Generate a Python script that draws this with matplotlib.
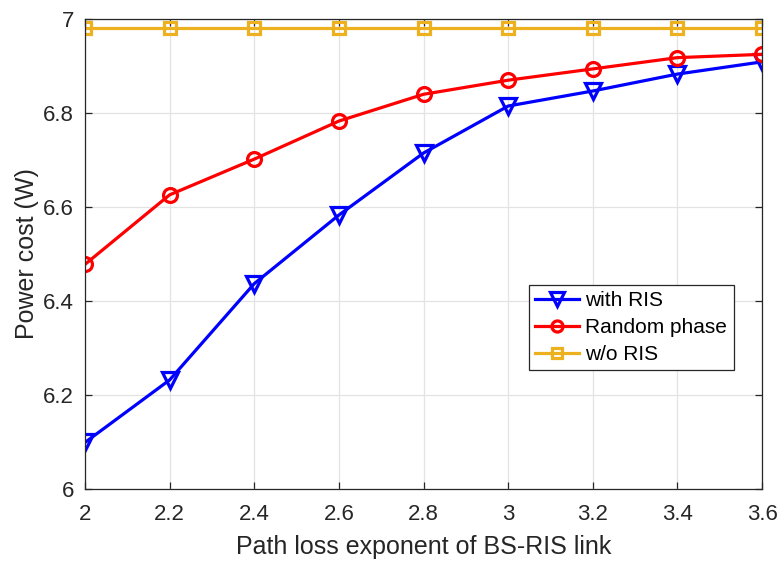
import matplotlib
matplotlib.use("Agg")
import matplotlib.pyplot as plt

plt.rcParams['font.family'] = ['Liberation Sans', 'DejaVu Sans']

# path loss exponent of the BS-RIS link
exponent = [2.0, 2.2, 2.4, 2.6, 2.8, 3.0, 3.2, 3.4, 3.6]

# power cost (W) for each scheme
with_ris = [6.099, 6.232, 6.437, 6.583, 6.715, 6.815, 6.847, 6.883, 6.909]
random_phase = [6.478, 6.626, 6.702, 6.783, 6.840, 6.870, 6.894, 6.918, 6.925]
without_ris = [6.981] * len(exponent)

fig = plt.figure(figsize=(7.8, 5.62), dpi=100)
ax = fig.add_axes([0.109, 0.130, 0.868, 0.836])

ax.plot(exponent, with_ris, color='#0000ff', lw=2.3, marker='v', ms=12,
        mfc='none', mew=2.3, label='with RIS')
ax.plot(exponent, random_phase, color='#ff0000', lw=2.3, marker='o', ms=10,
        mfc='none', mew=2.3, label='Random phase')
ax.plot(exponent, without_ris, color='#edb120', lw=2.3, marker='s', ms=9,
        mfc='none', mew=2.3, label='w/o RIS')

ax.set_xlim(2, 3.6)
ax.set_ylim(6, 7)
ax.set_xticks([2, 2.2, 2.4, 2.6, 2.8, 3, 3.2, 3.4, 3.6])
ax.set_xticklabels(['2', '2.2', '2.4', '2.6', '2.8', '3', '3.2', '3.4', '3.6'])
ax.set_yticks([6, 6.2, 6.4, 6.6, 6.8, 7])
ax.set_yticklabels(['6', '6.2', '6.4', '6.6', '6.8', '7'])

ax.grid(True, color='#e3e3e3', lw=0.9)
ax.set_axisbelow(True)
for s in ax.spines.values():
    s.set_color('#262626')
    s.set_linewidth(0.9)
ax.tick_params(direction='in', top=True, right=True, length=5, width=0.9,
               colors='#262626', labelsize=16)
ax.tick_params(axis='x', pad=11)
ax.tick_params(axis='y', pad=8)

ax.set_xlabel('Path loss exponent of BS-RIS link', fontsize=18,
              color='#262626', labelpad=7)
ax.set_ylabel('Power cost (W)', fontsize=18, color='#262626', labelpad=3)

leg = ax.legend(loc='upper left', bbox_to_anchor=(0.656, 0.434), fontsize=15,
                handlelength=2.1, markerscale=0.8, fancybox=False,
                framealpha=1, edgecolor='#262626', borderpad=0.3,
                labelspacing=0.38, handletextpad=0.3, borderaxespad=0)
leg.get_frame().set_linewidth(0.9)

fig.savefig('out.png', dpi=100)
